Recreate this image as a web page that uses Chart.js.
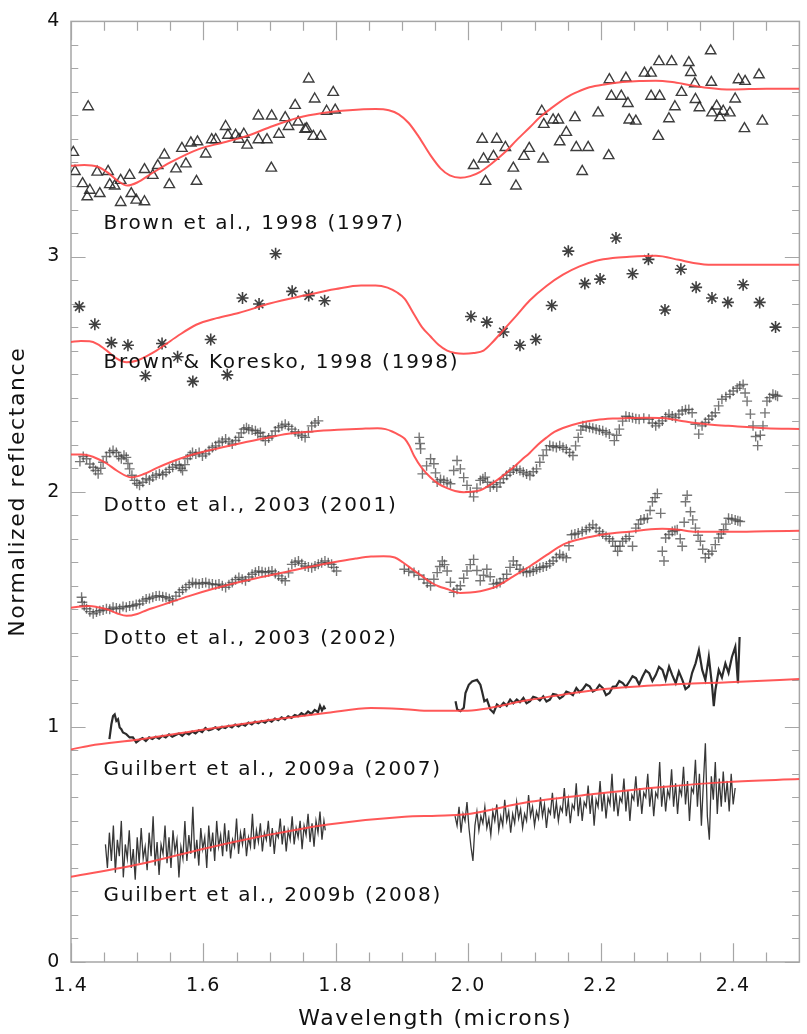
<!DOCTYPE html>
<html>
<head>
<meta charset="utf-8">
<script src="https://cdn.jsdelivr.net/npm/chart.js@4.4.1/dist/chart.umd.min.js"></script>
<style>
html,body{margin:0;padding:0;background:#fff;}
canvas{display:block;}
</style>
</head>
<body>
<canvas id="c" width="807" height="1034"></canvas>
<script>
// ---------- tick values ----------
const xMajorTicks = [1.4, 1.6, 1.8, 2.0, 2.2, 2.4];
const xMinorTicks = [1.45,1.5,1.55,1.65,1.7,1.75,1.85,1.9,1.95,2.05,2.1,2.15,2.25,2.3,2.35,2.45];
const yMajorTicks = [0, 1, 2, 3, 4];
const yMinorTicks = [0.1,0.2,0.3,0.4,0.5,0.6,0.7,0.8,0.9,1.1,1.2,1.3,1.4,1.5,1.6,1.7,1.8,1.9,2.1,2.2,2.3,2.4,2.5,2.6,2.7,2.8,2.9,3.1,3.2,3.3,3.4,3.5,3.6,3.7,3.8,3.9];

// ---------- series names ----------
const seriesNames = [
  "Brown et al., 1998 (1997)",
  "Brown & Koresko, 1998 (1998)",
  "Dotto et al., 2003 (2001)",
  "Dotto et al., 2003 (2002)",
  "Guilbert et al., 2009a (2007)",
  "Guilbert et al., 2009b (2008)"
];

// ---------- observations ----------
const brown1997 = [
[1.4035,3.443],[1.426,3.637],[1.406,3.362],[1.4175,3.310],[1.4285,3.282],[1.4245,3.254],[1.4435,3.268],[1.4395,3.359],
[1.456,3.362],[1.4585,3.306],[1.466,3.300],[1.475,3.324],[1.475,3.230],[1.4885,3.345],[1.491,3.268],[1.4985,3.240],
[1.511,3.233],[1.511,3.370],[1.5235,3.345],[1.531,3.387],[1.541,3.432],[1.5485,3.306],[1.5585,3.373],[1.5675,3.460],
[1.5735,3.394],[1.581,3.483],[1.591,3.488],[1.5895,3.320],[1.6035,3.436],[1.6125,3.497],[1.6185,3.497],[1.6335,3.553],
[1.637,3.516],[1.6485,3.516],[1.6535,3.499],[1.661,3.520],[1.666,3.474],[1.683,3.598],[1.683,3.497],[1.696,3.497],
[1.7025,3.376],[1.703,3.598],[1.714,3.520],[1.7235,3.591],[1.7285,3.553],[1.7385,3.643],[1.743,3.572],[1.7535,3.541],
[1.759,3.755],[1.796,3.698],[1.768,3.670],[1.786,3.618],[1.799,3.623],[1.756,3.544],[1.766,3.511],[1.777,3.511],
[2.008,3.387],[2.023,3.415],[2.021,3.499],[2.038,3.426],[2.043,3.499],[2.056,3.464],[2.026,3.320],[2.068,3.376],
[2.072,3.300],[2.084,3.426],[2.092,3.460],[2.111,3.618],[2.114,3.562],[2.128,3.581],[2.136,3.581],[2.113,3.415],
[2.138,3.488],[2.148,3.528],[2.161,3.591],[2.163,3.464],[2.181,3.464],[2.172,3.362],[2.196,3.611],[2.212,3.429],
[2.213,3.752],[2.216,3.682],[2.231,3.682],[2.238,3.759],[2.241,3.651],[2.243,3.581],[2.253,3.576],[2.266,3.780],
[2.276,3.780],[2.276,3.682],[2.289,3.682],[2.287,3.511],[2.288,3.829],[2.307,3.829],[2.303,3.586],[2.312,3.637],
[2.322,3.698],[2.333,3.825],[2.336,3.783],[2.342,3.735],[2.343,3.668],[2.349,3.633],[2.366,3.875],[2.367,3.741],
[2.368,3.611],[2.375,3.640],[2.380,3.591],[2.385,3.618],[2.395,3.611],[2.403,3.670],[2.408,3.752],[2.418,3.745],
[2.417,3.544],[2.439,3.773],[2.444,3.576]
];

const brownKoresko1998 = [
[1.4125,2.787],[1.436,2.712],[1.461,2.633],[1.486,2.623],[1.5125,2.493],[1.5375,2.630],[1.561,2.574],[1.584,2.469],
[1.611,2.647],[1.636,2.497],[1.659,2.824],[1.684,2.798],[1.709,3.012],[1.734,2.852],[1.759,2.834],[1.783,2.812],
[2.004,2.745],[2.028,2.721],[2.053,2.679],[2.078,2.623],[2.102,2.647],[2.126,2.792],[2.151,3.023],[2.176,2.885],
[2.199,2.904],[2.223,3.079],[2.248,2.927],[2.272,2.988],[2.297,2.773],[2.321,2.946],[2.344,2.869],[2.368,2.824],
[2.392,2.805],[2.415,2.880],[2.440,2.805],[2.464,2.700]
];

const dotto2001 = [
[1.4135,2.128],[1.4185,2.150],[1.4235,2.140],[1.4285,2.118],[1.4335,2.104],[1.437,2.090],[1.441,2.076],[1.445,2.100],
[1.4485,2.125],[1.4535,2.150],[1.4585,2.167],[1.4635,2.175],[1.4685,2.167],[1.472,2.150],[1.476,2.140],[1.480,2.155],
[1.4835,2.146],[1.486,2.120],[1.4885,2.097],[1.492,2.070],[1.496,2.048],[1.4995,2.035],[1.5035,2.027],[1.5085,2.040],
[1.5135,2.055],[1.5185,2.050],[1.5235,2.062],[1.5285,2.070],[1.5335,2.076],[1.5385,2.072],[1.5435,2.083],[1.5485,2.095],
[1.5535,2.104],[1.5585,2.115],[1.5635,2.111],[1.566,2.100],[1.5685,2.090],[1.572,2.115],[1.576,2.140],[1.580,2.155],
[1.5835,2.167],[1.5885,2.160],[1.5935,2.167],[1.5985,2.152],[1.6035,2.161],[1.6085,2.175],[1.6135,2.188],[1.6185,2.195],
[1.6235,2.209],[1.6285,2.215],[1.6335,2.224],[1.6385,2.212],[1.6435,2.203],[1.6485,2.218],[1.6535,2.231],[1.657,2.250],
[1.661,2.266],[1.665,2.272],[1.6685,2.266],[1.6735,2.262],[1.6785,2.259],[1.682,2.248],[1.686,2.252],[1.690,2.235],
[1.6935,2.217],[1.6985,2.228],[1.7035,2.238],[1.7085,2.258],[1.7135,2.273],[1.7185,2.280],[1.7235,2.287],[1.7285,2.278],
[1.7335,2.266],[1.7385,2.255],[1.7435,2.245],[1.7485,2.238],[1.7535,2.231],[1.7585,2.255],[1.7635,2.280],[1.7685,2.292],
[1.7735,2.301],
[1.9258,2.231],[1.927,2.205],[1.928,2.182],[1.9307,2.076],[1.937,2.110],[1.943,2.140],[1.948,2.119],[1.9505,2.080],
[1.953,2.041],[1.958,2.052],[1.963,2.048],[1.968,2.040],[1.973,2.034],[1.978,2.090],[1.983,2.133],[1.988,2.097],
[1.993,2.060],[1.998,2.027],[2.003,2.000],[2.008,1.978],[2.013,2.015],[2.018,2.048],[2.022,2.055],[2.0255,2.062],
[2.029,2.040],[2.033,2.020],[2.038,2.030],[2.043,2.020],[2.048,2.038],[2.053,2.055],[2.058,2.070],[2.063,2.083],
[2.068,2.092],[2.073,2.097],[2.078,2.090],[2.083,2.083],[2.088,2.075],[2.093,2.069],[2.098,2.085],[2.103,2.097],
[2.108,2.125],[2.113,2.154],[2.118,2.178],[2.123,2.196],[2.128,2.192],[2.133,2.188],[2.138,2.195],[2.143,2.188],
[2.148,2.180],[2.153,2.167],[2.158,2.154],[2.162,2.195],[2.166,2.231],[2.170,2.262],[2.173,2.280],[2.178,2.276],
[2.183,2.273],[2.188,2.270],[2.193,2.266],[2.198,2.262],[2.203,2.259],[2.208,2.252],[2.213,2.245],[2.2205,2.217],
[2.224,2.240],[2.228,2.266],[2.233,2.300],[2.238,2.321],[2.243,2.318],[2.248,2.315],[2.253,2.310],[2.258,2.308],
[2.265,2.312],[2.273,2.308],[2.278,2.292],[2.283,2.280],[2.288,2.290],[2.293,2.301],[2.298,2.318],[2.303,2.329],
[2.308,2.322],[2.313,2.315],[2.318,2.330],[2.323,2.343],[2.328,2.348],[2.333,2.350],[2.338,2.336],[2.343,2.287],
[2.348,2.245],[2.353,2.280],[2.358,2.295],[2.363,2.308],[2.368,2.322],[2.373,2.336],[2.378,2.365],[2.383,2.393],
[2.389,2.404],[2.395,2.414],[2.400,2.428],[2.406,2.440],[2.410,2.450],[2.415,2.456],[2.418,2.420],[2.421,2.385],
[2.426,2.330],[2.430,2.280],[2.434,2.235],[2.437,2.196],[2.441,2.240],[2.445,2.280],[2.448,2.335],[2.451,2.385],
[2.455,2.400],[2.460,2.414],[2.464,2.410],[2.467,2.406]
];

const dotto2002 = [
[1.416,1.551],[1.417,1.530],[1.420,1.515],[1.4235,1.502],[1.4285,1.490],[1.4335,1.481],[1.4385,1.488],[1.4435,1.494],
[1.4485,1.497],[1.4535,1.502],[1.4585,1.500],[1.4635,1.509],[1.4685,1.505],[1.4735,1.502],[1.4785,1.512],[1.4835,1.509],
[1.4885,1.514],[1.4935,1.515],[1.4985,1.520],[1.5035,1.523],[1.5085,1.535],[1.5135,1.544],[1.5185,1.546],[1.5235,1.551],
[1.5285,1.556],[1.5335,1.558],[1.5385,1.553],[1.5435,1.551],[1.5485,1.545],[1.5535,1.537],[1.5585,1.556],[1.5635,1.572],
[1.5685,1.583],[1.5735,1.593],[1.5785,1.605],[1.5835,1.614],[1.5885,1.610],[1.5935,1.607],[1.5985,1.612],[1.6035,1.614],
[1.6085,1.609],[1.6135,1.607],[1.6185,1.604],[1.6235,1.607],[1.6285,1.600],[1.6335,1.593],[1.6385,1.604],[1.6435,1.614],
[1.6485,1.626],[1.6535,1.635],[1.6585,1.628],[1.6635,1.621],[1.6685,1.637],[1.6735,1.649],[1.6785,1.657],[1.6835,1.663],
[1.6885,1.660],[1.6935,1.656],[1.6985,1.660],[1.7035,1.663],[1.7085,1.652],[1.7135,1.642],[1.7185,1.630],[1.7235,1.621],
[1.7285,1.655],[1.7335,1.691],[1.7385,1.700],[1.7435,1.705],[1.7485,1.694],[1.7535,1.684],[1.7585,1.680],[1.7635,1.677],
[1.7685,1.684],[1.7735,1.691],[1.7785,1.698],[1.7835,1.705],[1.7885,1.698],[1.7935,1.691],[1.797,1.678],[1.801,1.663],
[1.9033,1.670],[1.910,1.662],[1.918,1.656],[1.925,1.645],[1.933,1.628],[1.938,1.612],[1.943,1.600],[1.948,1.628],
[1.953,1.656],[1.957,1.682],[1.9607,1.705],[1.964,1.690],[1.968,1.663],[1.973,1.615],[1.978,1.572],[1.983,1.585],
[1.988,1.600],[1.993,1.632],[1.998,1.663],[2.003,1.690],[2.008,1.712],[2.013,1.665],[2.018,1.621],[2.023,1.645],
[2.028,1.670],[2.033,1.638],[2.038,1.607],[2.043,1.610],[2.048,1.614],[2.053,1.630],[2.058,1.649],[2.063,1.678],
[2.068,1.705],[2.073,1.688],[2.078,1.670],[2.083,1.662],[2.088,1.656],[2.093,1.660],[2.098,1.663],[2.103,1.670],
[2.108,1.677],[2.113,1.680],[2.118,1.684],[2.123,1.694],[2.128,1.705],[2.133,1.720],[2.138,1.733],[2.143,1.726],
[2.148,1.719],[2.152,1.770],[2.156,1.817],[2.161,1.820],[2.166,1.824],[2.172,1.831],[2.178,1.838],[2.183,1.848],
[2.188,1.859],[2.193,1.845],[2.198,1.831],[2.203,1.820],[2.208,1.810],[2.213,1.800],[2.218,1.789],[2.222,1.768],
[2.2255,1.747],[2.229,1.768],[2.233,1.789],[2.238,1.800],[2.243,1.810],[2.248,1.768],[2.253,1.845],[2.257,1.862],
[2.2605,1.880],[2.2655,1.884],[2.2705,1.887],[2.2745,1.920],[2.278,1.957],[2.282,1.975],[2.2855,1.992],[2.2905,1.908],
[2.293,1.747],[2.2955,1.705],[2.298,1.803],[2.303,1.818],[2.308,1.831],[2.312,1.835],[2.3155,1.838],[2.320,1.800],
[2.323,1.768],[2.326,1.870],[2.328,1.957],[2.3305,1.985],[2.3355,1.915],[2.339,1.880],[2.343,1.845],[2.347,1.815],
[2.3505,1.789],[2.354,1.755],[2.358,1.719],[2.363,1.735],[2.368,1.747],[2.373,1.775],[2.378,1.803],[2.382,1.820],
[2.3855,1.838],[2.389,1.862],[2.393,1.887],[2.398,1.884],[2.403,1.880],[2.407,1.876],[2.4105,1.873]
];

const guilbert2007 = [
[1.458,0.948],[1.461,1.011],[1.4635,1.046],[1.466,1.053],[1.4685,1.025],[1.471,1.032],[1.4735,0.997],[1.476,0.990],
[1.4785,0.976],[1.4835,0.969],[1.4885,0.955],[1.4935,0.955],[1.4985,0.934],[1.5035,0.945],[1.508,0.952],[1.513,0.940],
[1.518,0.955],[1.523,0.948],[1.528,0.958],[1.533,0.950],[1.538,0.962],[1.543,0.955],[1.548,0.968],[1.553,0.958],
[1.558,0.965],[1.563,0.972],[1.568,0.962],[1.573,0.975],[1.578,0.968],[1.583,0.980],[1.588,0.972],[1.593,0.985],
[1.598,0.978],[1.603,0.995],[1.608,0.985],[1.613,0.990],[1.618,0.998],[1.623,0.988],[1.628,1.000],[1.633,0.995],
[1.638,1.005],[1.643,0.998],[1.648,1.010],[1.653,1.002],[1.658,1.012],[1.663,1.005],[1.668,1.018],[1.673,1.010],
[1.678,1.022],[1.683,1.015],[1.688,1.025],[1.693,1.018],[1.698,1.030],[1.703,1.022],[1.708,1.035],[1.713,1.028],
[1.718,1.040],[1.723,1.032],[1.728,1.045],[1.733,1.038],[1.738,1.050],[1.743,1.045],[1.748,1.058],[1.753,1.050],
[1.758,1.065],[1.763,1.055],[1.768,1.072],[1.773,1.062],[1.776,1.090],[1.779,1.070],[1.782,1.085],[1.784,1.075],
null,
[1.9807,1.109],[1.9832,1.074],[1.9882,1.067],[1.9932,1.081],[1.9957,1.144],[2.0007,1.179],[2.0057,1.193],[2.0132,1.200],
[2.0182,1.179],[2.0207,1.151],[2.0242,1.109],[2.0282,1.116],[2.0332,1.074],[2.0382,1.060],[2.0432,1.095],[2.048,1.085],
[2.0532,1.102],[2.058,1.090],[2.0632,1.116],[2.068,1.100],[2.0732,1.116],[2.078,1.105],[2.0832,1.123],[2.088,1.100],
[2.0932,1.109],[2.098,1.128],[2.1032,1.123],[2.108,1.112],[2.1132,1.130],[2.118,1.108],[2.1232,1.116],[2.128,1.140],
[2.1332,1.137],[2.138,1.120],[2.1432,1.130],[2.148,1.150],[2.1532,1.144],[2.158,1.135],[2.1632,1.165],[2.168,1.148],
[2.1732,1.161],[2.178,1.180],[2.1832,1.172],[2.188,1.150],[2.1932,1.158],[2.198,1.178],[2.2032,1.165],[2.208,1.135],
[2.2132,1.144],[2.218,1.170],[2.2232,1.172],[2.228,1.195],[2.2332,1.186],[2.238,1.170],[2.2432,1.193],[2.248,1.215],
[2.2532,1.207],[2.258,1.180],[2.2632,1.214],[2.268,1.240],[2.2732,1.228],[2.278,1.195],[2.2832,1.221],[2.288,1.255],
[2.2932,1.242],[2.298,1.200],[2.3032,1.256],[2.308,1.220],[2.3132,1.186],[2.318,1.235],[2.3232,1.200],[2.328,1.160],
[2.3332,1.172],[2.338,1.230],[2.3432,1.270],[2.3482,1.326],[2.3532,1.242],[2.358,1.200],[2.3632,1.298],[2.3682,1.172],
[2.3707,1.088],[2.3732,1.158],[2.3782,1.242],[2.383,1.210],[2.3882,1.270],[2.393,1.230],[2.3982,1.298],[2.4032,1.340],
[2.4072,1.186],[2.4097,1.382]
];

const guilbert2008 = [
[1.452,0.50],[1.455,0.40],[1.458,0.55],[1.461,0.43],[1.464,0.58],[1.467,0.38],[1.470,0.52],[1.473,0.45],[1.476,0.60],
[1.479,0.36],[1.482,0.50],[1.485,0.44],[1.488,0.56],[1.491,0.40],[1.494,0.48],[1.497,0.35],[1.500,0.53],[1.503,0.42],
[1.506,0.57],[1.509,0.44],[1.512,0.49],[1.515,0.39],[1.518,0.55],[1.521,0.45],[1.524,0.62],[1.527,0.41],[1.530,0.51],
[1.533,0.37],[1.536,0.50],[1.539,0.46],[1.542,0.58],[1.545,0.42],[1.548,0.53],[1.551,0.40],[1.554,0.56],[1.557,0.47],
[1.560,0.52],[1.563,0.36],[1.566,0.49],[1.569,0.44],[1.572,0.60],[1.575,0.43],[1.578,0.54],[1.581,0.46],[1.584,0.66],
[1.587,0.44],[1.590,0.52],[1.593,0.41],[1.596,0.57],[1.599,0.48],[1.602,0.53],[1.605,0.40],[1.608,0.58],[1.611,0.47],
[1.614,0.55],[1.617,0.43],[1.620,0.60],[1.623,0.49],[1.626,0.54],[1.629,0.45],[1.632,0.59],[1.635,0.47],[1.638,0.56],
[1.641,0.44],[1.644,0.52],[1.647,0.49],[1.650,0.61],[1.653,0.46],[1.656,0.55],[1.659,0.50],[1.662,0.57],[1.665,0.45],
[1.668,0.53],[1.671,0.49],[1.674,0.63],[1.677,0.48],[1.680,0.56],[1.683,0.51],[1.686,0.59],[1.689,0.47],[1.692,0.55],
[1.695,0.52],[1.698,0.60],[1.701,0.49],[1.704,0.57],[1.707,0.46],[1.710,0.55],[1.713,0.53],[1.716,0.61],[1.719,0.50],
[1.722,0.58],[1.725,0.47],[1.728,0.56],[1.731,0.52],[1.734,0.62],[1.737,0.50],[1.740,0.57],[1.743,0.53],[1.746,0.60],
[1.749,0.48],[1.752,0.58],[1.755,0.54],[1.758,0.63],[1.761,0.51],[1.764,0.59],[1.767,0.49],[1.770,0.60],[1.773,0.55],
[1.776,0.64],[1.779,0.52],[1.782,0.60],[1.784,0.56],
null,
[1.980,0.62],[1.983,0.58],[1.986,0.66],[1.989,0.55],[1.992,0.63],[1.995,0.60],[1.998,0.68],[2.001,0.57],[2.004,0.49],
[2.007,0.43],[2.010,0.58],[2.013,0.64],[2.016,0.56],[2.019,0.62],[2.022,0.59],[2.025,0.66],[2.028,0.57],[2.031,0.61],
[2.034,0.54],[2.037,0.64],[2.040,0.60],[2.043,0.67],[2.046,0.56],[2.049,0.62],[2.052,0.58],[2.055,0.69],[2.058,0.60],
[2.061,0.64],[2.064,0.55],[2.067,0.63],[2.070,0.59],[2.073,0.68],[2.076,0.61],[2.079,0.65],[2.082,0.57],[2.085,0.63],
[2.088,0.60],[2.091,0.71],[2.094,0.62],[2.097,0.66],[2.100,0.58],[2.103,0.64],[2.106,0.61],[2.109,0.70],[2.112,0.62],
[2.115,0.67],[2.118,0.57],[2.121,0.65],[2.124,0.63],[2.127,0.72],[2.130,0.61],[2.133,0.68],[2.136,0.60],[2.139,0.66],
[2.142,0.64],[2.145,0.74],[2.148,0.62],[2.151,0.69],[2.154,0.59],[2.157,0.67],[2.160,0.65],[2.163,0.76],[2.166,0.62],
[2.169,0.70],[2.172,0.60],[2.175,0.68],[2.178,0.66],[2.181,0.75],[2.184,0.63],[2.187,0.71],[2.190,0.58],[2.193,0.69],
[2.196,0.66],[2.199,0.77],[2.202,0.64],[2.205,0.72],[2.208,0.61],[2.211,0.70],[2.214,0.67],[2.217,0.80],[2.220,0.64],
[2.223,0.72],[2.226,0.62],[2.229,0.70],[2.232,0.68],[2.235,0.78],[2.238,0.64],[2.241,0.73],[2.244,0.60],[2.247,0.71],
[2.250,0.69],[2.253,0.79],[2.256,0.66],[2.259,0.74],[2.262,0.63],[2.265,0.72],[2.268,0.70],[2.271,0.80],[2.274,0.66],
[2.277,0.74],[2.280,0.62],[2.283,0.72],[2.286,0.70],[2.289,0.85],[2.292,0.66],[2.295,0.75],[2.298,0.64],[2.301,0.73],
[2.304,0.70],[2.307,0.82],[2.310,0.66],[2.313,0.76],[2.316,0.63],[2.319,0.74],[2.322,0.71],[2.325,0.83],[2.328,0.67],
[2.331,0.77],[2.334,0.60],[2.337,0.74],[2.340,0.72],[2.343,0.86],[2.346,0.66],[2.349,0.80],[2.352,0.58],[2.355,0.76],
[2.358,0.93],[2.361,0.62],[2.364,0.52],[2.367,0.79],[2.370,0.69],[2.373,0.85],[2.376,0.63],[2.379,0.78],[2.382,0.66],
[2.385,0.81],[2.388,0.68],[2.391,0.77],[2.394,0.64],[2.397,0.80],[2.400,0.67],[2.403,0.74]
];

// ---------- model curves ----------
const modelBrown1997 = [
[1.40,3.386],[1.42,3.389],[1.44,3.382],[1.455,3.358],[1.47,3.323],[1.485,3.302],[1.50,3.315],[1.52,3.350],[1.55,3.400],
[1.593,3.457],[1.63,3.485],[1.668,3.515],[1.70,3.550],[1.743,3.590],[1.78,3.610],[1.82,3.622],[1.86,3.627],[1.88,3.622],
[1.895,3.605],[1.91,3.568],[1.925,3.51],[1.943,3.43],[1.958,3.375],[1.972,3.345],[1.988,3.335],[2.003,3.342],[2.018,3.36],
[2.035,3.395],[2.054,3.44],[2.073,3.495],[2.093,3.55],[2.108,3.592],[2.123,3.626],[2.148,3.676],[2.165,3.70],[2.183,3.72],
[2.208,3.733],[2.233,3.742],[2.258,3.747],[2.283,3.748],[2.308,3.742],[2.333,3.73],[2.36,3.718],[2.398,3.71],[2.45,3.714],
[2.50,3.714]
];
const modelBrownKoresko = [
[1.40,2.637],[1.415,2.641],[1.428,2.64],[1.44,2.628],[1.454,2.60],[1.468,2.568],[1.484,2.55],[1.50,2.558],[1.515,2.578],
[1.529,2.60],[1.56,2.66],[1.589,2.71],[1.62,2.738],[1.653,2.76],[1.70,2.80],[1.754,2.835],[1.80,2.862],[1.838,2.877],
[1.86,2.877],[1.878,2.868],[1.892,2.848],[1.904,2.82],[1.918,2.755],[1.93,2.70],[1.943,2.66],[1.955,2.625],[1.968,2.60],
[1.98,2.59],[1.993,2.587],[2.008,2.59],[2.023,2.60],[2.038,2.64],[2.053,2.687],[2.073,2.75],[2.093,2.814],[2.118,2.875],
[2.143,2.923],[2.168,2.958],[2.193,2.982],[2.218,2.994],[2.243,2.999],[2.283,3.003],[2.318,2.986],[2.34,2.973],[2.368,2.965],
[2.45,2.965],[2.50,2.965]
];
const modelDotto2001 = [
[1.40,2.158],[1.415,2.158],[1.428,2.153],[1.44,2.14],[1.454,2.12],[1.47,2.088],[1.491,2.061],[1.51,2.075],[1.529,2.10],
[1.55,2.125],[1.578,2.153],[1.615,2.18],[1.653,2.204],[1.69,2.226],[1.728,2.246],[1.765,2.256],[1.803,2.263],[1.84,2.268],
[1.863,2.27],[1.875,2.266],[1.885,2.256],[1.895,2.242],[1.904,2.225],[1.911,2.195],[1.918,2.153],[1.93,2.10],[1.943,2.06],
[1.955,2.033],[1.968,2.015],[1.98,2.003],[1.993,1.998],[2.005,2.0],[2.018,2.006],[2.03,2.024],[2.043,2.048],[2.055,2.074],
[2.068,2.103],[2.08,2.134],[2.093,2.166],[2.105,2.20],[2.118,2.23],[2.13,2.254],[2.143,2.271],[2.168,2.292],[2.193,2.305],
[2.218,2.311],[2.243,2.313],[2.268,2.314],[2.293,2.313],[2.318,2.303],[2.343,2.292],[2.368,2.285],[2.393,2.28],[2.45,2.27],
[2.50,2.267]
];
const modelDotto2002 = [
[1.40,1.506],[1.415,1.512],[1.428,1.514],[1.44,1.509],[1.454,1.50],[1.47,1.482],[1.484,1.472],[1.50,1.48],[1.515,1.497],
[1.529,1.51],[1.55,1.53],[1.578,1.556],[1.615,1.587],[1.653,1.615],[1.69,1.638],[1.728,1.661],[1.765,1.683],[1.803,1.703],
[1.83,1.716],[1.853,1.724],[1.872,1.725],[1.889,1.72],[1.901,1.70],[1.913,1.675],[1.928,1.645],[1.943,1.615],[1.955,1.598],
[1.968,1.586],[1.988,1.569],[2.003,1.571],[2.018,1.577],[2.03,1.585],[2.043,1.598],[2.068,1.64],[2.093,1.683],[2.118,1.73],
[2.143,1.775],[2.168,1.798],[2.193,1.813],[2.218,1.823],[2.243,1.83],[2.268,1.838],[2.293,1.842],[2.318,1.838],[2.343,1.83],
[2.393,1.83],[2.45,1.832],[2.50,1.834]
];
const modelGuilbert2007 = [
[1.40,0.904],[1.428,0.92],[1.503,0.946],[1.604,0.99],[1.703,1.03],[1.788,1.06],[1.853,1.08],[1.904,1.075],[1.943,1.068],
[1.993,1.068],[2.093,1.115],[2.193,1.157],[2.293,1.178],[2.393,1.19],[2.50,1.203]
];
const modelGuilbert2008 = [
[1.40,0.362],[1.503,0.416],[1.604,0.484],[1.703,0.543],[1.788,0.585],[1.904,0.618],[1.953,0.622],[1.993,0.627],
[2.093,0.681],[2.193,0.715],[2.293,0.744],[2.393,0.766],[2.50,0.778]
];

// ---------- styling / layout (not data) ----------
const RED = 'rgba(255,70,70,0.9)';
const labelAnchor = {x: 1.449, ys: [3.14, 2.55, 1.94, 1.375, 0.816, 0.282]};
const FONT = '"DejaVu Sans", sans-serif';

const toXY = arr => arr.map(p => p === null ? {x: null, y: null} : {x: p[0], y: p[1]});

function modelDs(arr) {
  return {type: 'line', data: toXY(arr), borderColor: RED, borderWidth: 2, pointRadius: 0,
          fill: false, cubicInterpolationMode: 'monotone', order: 0};
}

const frameTicks = {
  id: 'frameTicks',
  beforeDraw(chart) {
    chart.ctx.letterSpacing = '1.6px';
  },
  beforeDatasetsDraw(chart) {
    const {ctx, chartArea: a, scales: {x, y}} = chart;
    ctx.save();
    ctx.strokeStyle = '#a6a6a6';
    ctx.lineWidth = 1.5;
    ctx.strokeRect(a.left, a.top, a.right - a.left, a.bottom - a.top);
    const H = a.bottom - a.top, W = a.right - a.left;
    const xMaj = 0.02 * H, yMaj = 0.02 * W;
    ctx.beginPath();
    const xt = (v, len) => {
      const px = Math.round(x.getPixelForValue(v)) + 0.5;
      ctx.moveTo(px, a.bottom); ctx.lineTo(px, a.bottom - len);
      ctx.moveTo(px, a.top); ctx.lineTo(px, a.top + len);
    };
    const yt = (v, len) => {
      const py = Math.round(y.getPixelForValue(v)) + 0.5;
      ctx.moveTo(a.left, py); ctx.lineTo(a.left + len, py);
      ctx.moveTo(a.right, py); ctx.lineTo(a.right - len, py);
    };
    xMajorTicks.forEach(v => xt(v, xMaj));
    xMinorTicks.forEach(v => xt(v, xMaj / 2));
    yMajorTicks.forEach(v => yt(v, yMaj));
    yMinorTicks.forEach(v => yt(v, yMaj / 2));
    ctx.lineWidth = 1.2;
    ctx.stroke();
    ctx.restore();
  },
  afterDraw(chart) {
    const {ctx, scales: {x, y}} = chart;
    ctx.save();
    ctx.letterSpacing = '1.8px';
    ctx.fillStyle = '#111';
    ctx.font = '20px ' + FONT;
    ctx.textBaseline = 'middle';
    ctx.textAlign = 'left';
    seriesNames.forEach((n, i) => {
      ctx.fillText(n, x.getPixelForValue(labelAnchor.x), y.getPixelForValue(labelAnchor.ys[i]));
    });
    ctx.restore();
  }
};

new Chart(document.getElementById('c'), {
  type: 'scatter',
  data: {
    datasets: [
      modelDs(modelBrown1997), modelDs(modelBrownKoresko), modelDs(modelDotto2001),
      modelDs(modelDotto2002), modelDs(modelGuilbert2007), modelDs(modelGuilbert2008),
      {label: seriesNames[0], data: toXY(brown1997), pointStyle: 'triangle', pointRadius: 6,
       borderColor: 'rgba(40,40,40,0.9)', backgroundColor: 'rgba(0,0,0,0)', pointBorderWidth: 1.4, order: 1},
      {label: seriesNames[1], data: toXY(brownKoresko1998), pointStyle: 'star', pointRadius: 6,
       borderColor: 'rgba(30,30,30,0.85)', backgroundColor: 'rgba(0,0,0,0)', pointBorderWidth: 1.6, order: 1},
      {label: seriesNames[2], data: toXY(dotto2001), pointStyle: 'cross', pointRadius: 5,
       borderColor: 'rgba(60,60,60,0.7)', pointBorderWidth: 1.4, order: 1},
      {label: seriesNames[3], data: toXY(dotto2002), pointStyle: 'cross', pointRadius: 5,
       borderColor: 'rgba(60,60,60,0.7)', pointBorderWidth: 1.4, order: 1},
      {type: 'line', label: seriesNames[4], data: toXY(guilbert2007), borderColor: 'rgba(20,20,20,0.9)',
       borderWidth: 2.2, pointRadius: 0, spanGaps: false, order: 1},
      {type: 'line', label: seriesNames[5], data: toXY(guilbert2008), borderColor: 'rgba(20,20,20,0.85)',
       borderWidth: 1.3, pointRadius: 0, spanGaps: false, order: 1}
    ]
  },
  options: {
    responsive: false,
    animation: false,
    devicePixelRatio: 1,
    layout: {padding: {top: 11, right: 2, left: 0, bottom: 0}},
    plugins: {legend: {display: false}, tooltip: {enabled: false}},
    scales: {
      x: {
        type: 'linear', min: 1.4, max: 2.5, position: 'bottom',
        grid: {display: false, drawTicks: false}, border: {display: false},
        afterBuildTicks: s => { s.ticks = xMajorTicks.map(v => ({value: v})); },
        afterFit: s => { s.height = 72; },
        ticks: {color: '#111', font: {family: FONT, size: 19}, padding: 13, maxRotation: 0,
                callback: v => Number(v).toFixed(1)},
        title: {display: true, text: 'Wavelength (microns)', color: '#111',
                font: {family: FONT, size: 22}, padding: {top: 0, bottom: 2}}
      },
      y: {
        type: 'linear', min: 0, max: 4,
        grid: {display: false, drawTicks: false}, border: {display: false},
        afterBuildTicks: s => { s.ticks = yMajorTicks.map(v => ({value: v})); },
        afterFit: s => { s.width = 71; },
        ticks: {color: '#111', font: {family: FONT, size: 19}, padding: 10,
                callback: v => String(v)},
        title: {display: true, text: 'Normalized reflectance', color: '#111',
                font: {family: FONT, size: 22}, padding: {top: 5, bottom: 0}}
      }
    }
  },
  plugins: [frameTicks]
});
</script>
</body>
</html>
